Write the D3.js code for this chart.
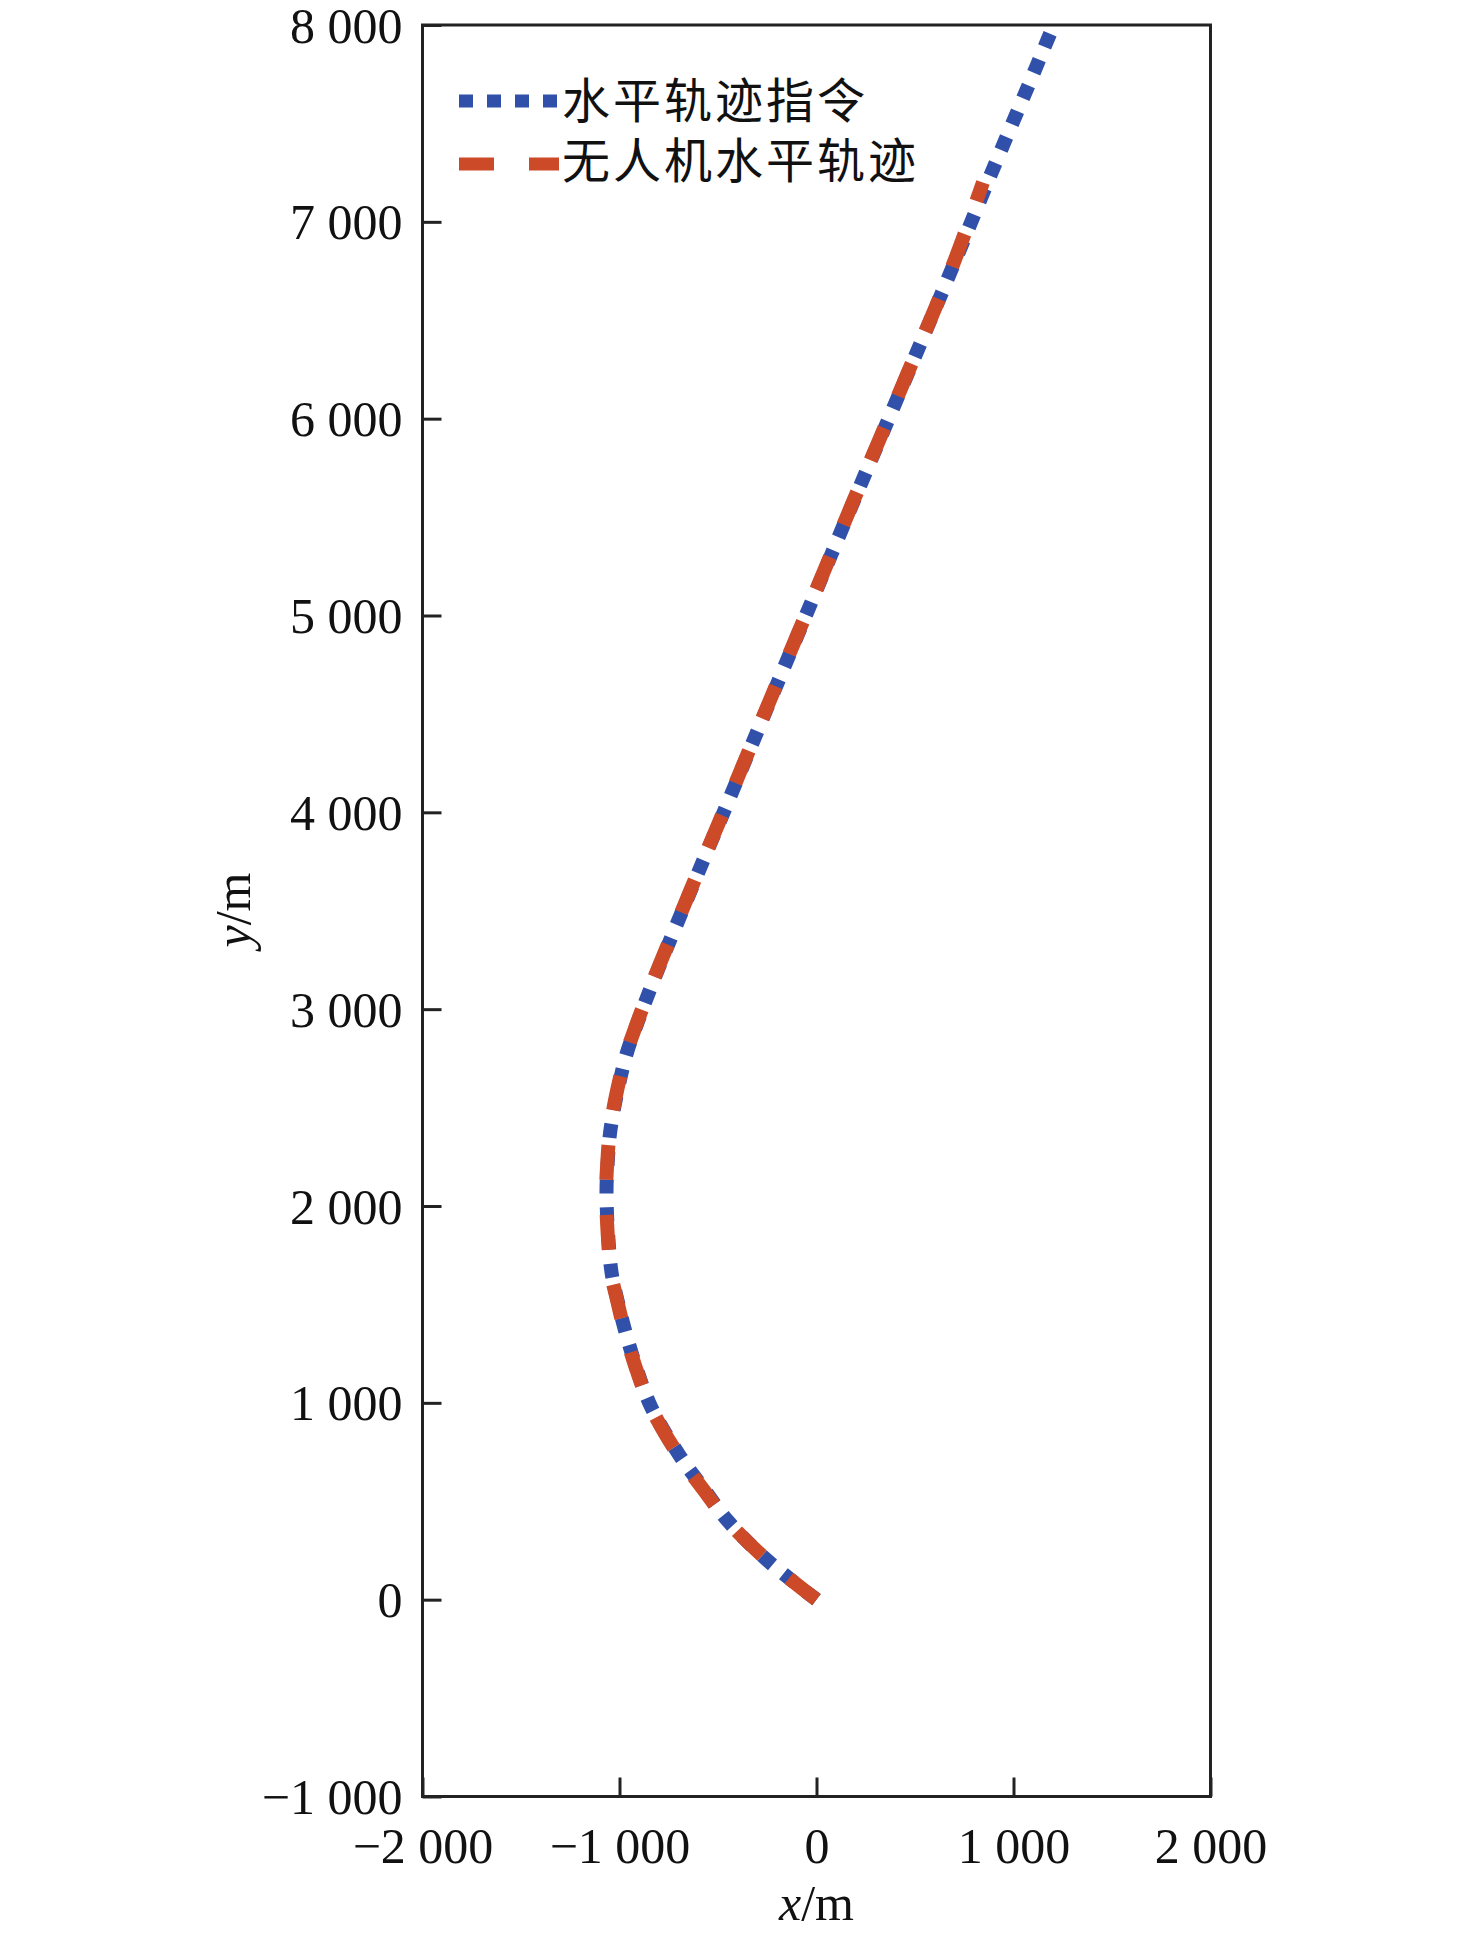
<!DOCTYPE html>
<html>
<head>
<meta charset="utf-8">
<script src="https://cdn.jsdelivr.net/npm/d3@7"></script>
<style>
  html, body { margin: 0; padding: 0; background: #fff; }
  svg { display: block; }
</style>
</head>
<body>
<svg id="chart" width="1476" height="1938"></svg>
<script>
// ---------- data ----------
const xTicks = [-2000, -1000, 0, 1000, 2000];
const xTickLabels = ["\u22122 000", "\u22121 000", "0", "1 000", "2 000"];
const yTicks = [-1000, 0, 1000, 2000, 3000, 4000, 5000, 6000, 7000, 8000];
const yTickLabels = ["\u22121 000", "0", "1 000", "2 000", "3 000", "4 000", "5 000", "6 000", "7 000", "8 000"];

const seriesNames = ["水平轨迹指令", "无人机水平轨迹"];

// horizontal trajectory command (blue dotted)
const cmdX = [0, -250, -450, -570, -700, -840, -915, -975, -1010, -1040, -1058, -1066, -1060, -1048, -1015, -965, -922, -872, -795, -710, -600, -440, -280, -50, 220, 430, 695, 897, 1083, 1200];
const cmdY = [0, 200, 400, 560, 740, 980, 1180, 1380, 1520, 1660, 1860, 2070, 2220, 2370, 2560, 2770, 2895, 3030, 3225, 3430, 3695, 4075, 4460, 5010, 5655, 6150, 6780, 7270, 7710, 7990];

// UAV horizontal trajectory (red dashed)
const uavX = [0, -250, -452, -575, -705, -842, -918, -978, -1012, -1043, -1060, -1068, -1062, -1050, -1018, -967, -924, -874, -797, -712, -602, -442, -282, -52, 218, 428, 692, 845];
const uavY = [0, 200, 400, 560, 740, 980, 1180, 1380, 1520, 1660, 1860, 2070, 2220, 2370, 2560, 2770, 2895, 3030, 3225, 3430, 3695, 4075, 4460, 5010, 5655, 6150, 6780, 7200];

// ---------- layout ----------
const svg = d3.select("#chart");
const L = 422.5, R = 1210.5, T = 25, B = 1796.5;
const x = d3.scaleLinear().domain([-2000, 2000]).range([L, R]);
const y = d3.scaleLinear().domain([-1000, 8000]).range([B, T]);

const blue = "#3050aa";
const red = "#cc4a28";
const axisColor = "#222";
const numFont = "'Liberation Serif', 'Times New Roman', serif";
const cjkFont = "'Noto Sans CJK SC', 'Noto Sans CJK JP', sans-serif";

// ---------- curves ----------
const line = d3.line().curve(d3.curveCatmullRom.alpha(0.5))
  .x(d => x(d[0])).y(d => y(d[1]));

const cmdPts = cmdX.map((v, i) => [v, cmdY[i]]);
const uavPts = uavX.map((v, i) => [v, uavY[i]]);

const plot = svg.append("g");
plot.append("clipPath").attr("id", "clip")
  .append("rect").attr("x", L).attr("y", T).attr("width", R - L).attr("height", B - T);

plot.append("path")
  .attr("clip-path", "url(#clip)")
  .attr("d", line(cmdPts))
  .attr("fill", "none")
  .attr("stroke", blue)
  .attr("stroke-width", 14)
  .attr("stroke-dasharray", "14 14");

plot.append("path")
  .attr("clip-path", "url(#clip)")
  .attr("d", line(uavPts))
  .attr("fill", "none")
  .attr("stroke", red)
  .attr("stroke-width", 14)
  .attr("stroke-dasharray", "35 35");

// ---------- axes ----------
const xAxis = d3.axisBottom(x).tickValues(xTicks)
  .tickSize(-19).tickPadding(32)
  .tickFormat((d, i) => xTickLabels[i]);
const gx = svg.append("g").attr("transform", `translate(0,${B})`).call(xAxis);
gx.select(".domain").remove();
gx.selectAll(".tick line").attr("stroke", axisColor).attr("stroke-width", 3);
gx.selectAll(".tick text").attr("font-family", numFont).attr("font-size", 50)
  .attr("fill", "#111").attr("dy", "0.71em").attr("y", 31);

const yAxis = d3.axisLeft(y).tickValues(yTicks)
  .tickSize(-19).tickPadding(20)
  .tickFormat((d, i) => yTickLabels[i]);
const gy = svg.append("g").attr("transform", `translate(${L},0)`).call(yAxis);
gy.select(".domain").remove();
gy.selectAll(".tick line").attr("stroke", axisColor).attr("stroke-width", 3);
gy.selectAll(".tick text").attr("font-family", numFont).attr("font-size", 50)
  .attr("fill", "#111").attr("x", -20).attr("dy", "0.34em");

// frame
svg.append("rect")
  .attr("x", L).attr("y", T).attr("width", R - L).attr("height", B - T)
  .attr("fill", "none").attr("stroke", axisColor).attr("stroke-width", 3);

// axis titles
const xt = svg.append("text").attr("x", x(0)).attr("y", 1920)
  .attr("text-anchor", "middle").attr("font-family", numFont).attr("font-size", 50).attr("fill", "#111");
xt.append("tspan").attr("font-style", "italic").text("x");
xt.append("tspan").text("/m");

const yt = svg.append("text").attr("transform", "translate(250,910) rotate(-90)")
  .attr("text-anchor", "middle").attr("font-family", numFont).attr("font-size", 50).attr("fill", "#111");
yt.append("tspan").attr("font-style", "italic").text("y");
yt.append("tspan").text("/m");

// ---------- legend ----------
const legend = svg.append("g");
const legItems = [
  { name: seriesNames[0], color: blue, dash: "14 14", ly: 101, ty: 118 },
  { name: seriesNames[1], color: red, dash: "35 35", ly: 164, ty: 178 }
];
legItems.forEach(it => {
  legend.append("line")
    .attr("x1", 459).attr("x2", 559).attr("y1", it.ly).attr("y2", it.ly)
    .attr("stroke", it.color).attr("stroke-width", 13).attr("stroke-dasharray", it.dash);
  legend.append("text")
    .attr("x", 562).attr("y", it.ty)
    .attr("font-family", cjkFont).attr("font-size", 48).attr("letter-spacing", 3)
    .attr("fill", "#111")
    .text(it.name);
});
</script>
</body>
</html>
